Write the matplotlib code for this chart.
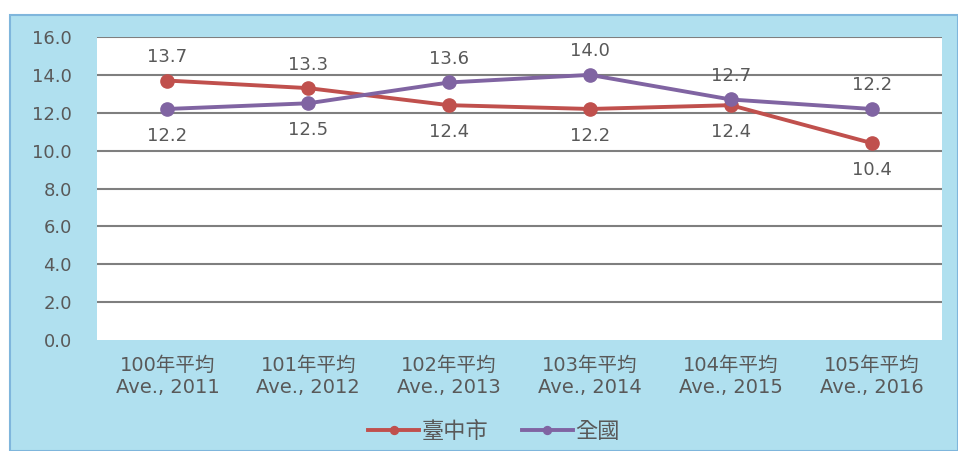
import matplotlib.pyplot as plt
from matplotlib.patches import Rectangle

plt.rcParams['font.family'] = ['DejaVu Sans', 'Noto Sans CJK TC']

categories = ["100年平均\nAve., 2011", "101年平均\nAve., 2012", "102年平均\nAve., 2013",
              "103年平均\nAve., 2014", "104年平均\nAve., 2015", "105年平均\nAve., 2016"]
taichung = [13.7, 13.3, 12.4, 12.2, 12.4, 10.4]
national = [12.2, 12.5, 13.6, 14.0, 12.7, 12.2]
# label above (+1) or below (-1) the point
taichung_pos = [1, 1, -1, -1, -1, -1]
national_pos = [-1, -1, 1, 1, 1, 1]

red = "#c0504d"
purple = "#8064a2"
grey = "#595959"

fig = plt.figure(figsize=(9.58, 4.51), dpi=100)
fig.patch.set_facecolor("white")
fig.add_artist(Rectangle((10/958, 0), 1 - 10/958, 436/451, transform=fig.transFigure,
                         facecolor="#b0e0ef", edgecolor="#7fb6dc", linewidth=1.5, zorder=-5))

ax = fig.add_axes([97/958, 111/451, 845/958, 303/451])
ax.set_facecolor("white")
x = range(len(categories))
ax.plot(x, taichung, "-o", color=red, lw=2.8, ms=9.5, label="臺中市", zorder=3)
ax.plot(x, national, "-o", color=purple, lw=2.8, ms=9.5, label="全國", zorder=3)

for vals, pos in [(taichung, taichung_pos), (national, national_pos)]:
    for i, (v, p) in enumerate(zip(vals, pos)):
        ax.annotate(f"{v:.1f}", (i, v), xytext=(0, 17 if p > 0 else -19.5),
                    textcoords="offset points", ha="center", va="center",
                    fontsize=13, color=grey)

ax.set_xlim(-0.5, 5.5)
ax.set_ylim(0, 16)
ax.set_yticks(range(0, 17, 2))
ax.set_yticklabels([f"{v:.1f}" for v in range(0, 17, 2)])
ax.set_xticks(list(x))
ax.set_xticklabels(categories, linespacing=1.17, fontsize=14)
ax.tick_params(axis="both", length=0, colors=grey, labelsize=13)
ax.tick_params(axis="x", pad=11.5, labelsize=14)
ax.tick_params(axis="y", pad=18)
for s in ax.spines.values():
    s.set_visible(False)
for v in range(2, 17, 2):
    ax.axhline(v, color="#7f7f7f", lw=1.5, zorder=1)

leg = fig.legend(loc="center", bbox_to_anchor=(494/958, 20/451), ncol=2, frameon=False,
                 fontsize=16, handlelength=2.3, columnspacing=1.5, handletextpad=0.1,
                 markerscale=0.6)
for t in leg.get_texts():
    t.set_color(grey)

fig.savefig("out.png", dpi=100)
